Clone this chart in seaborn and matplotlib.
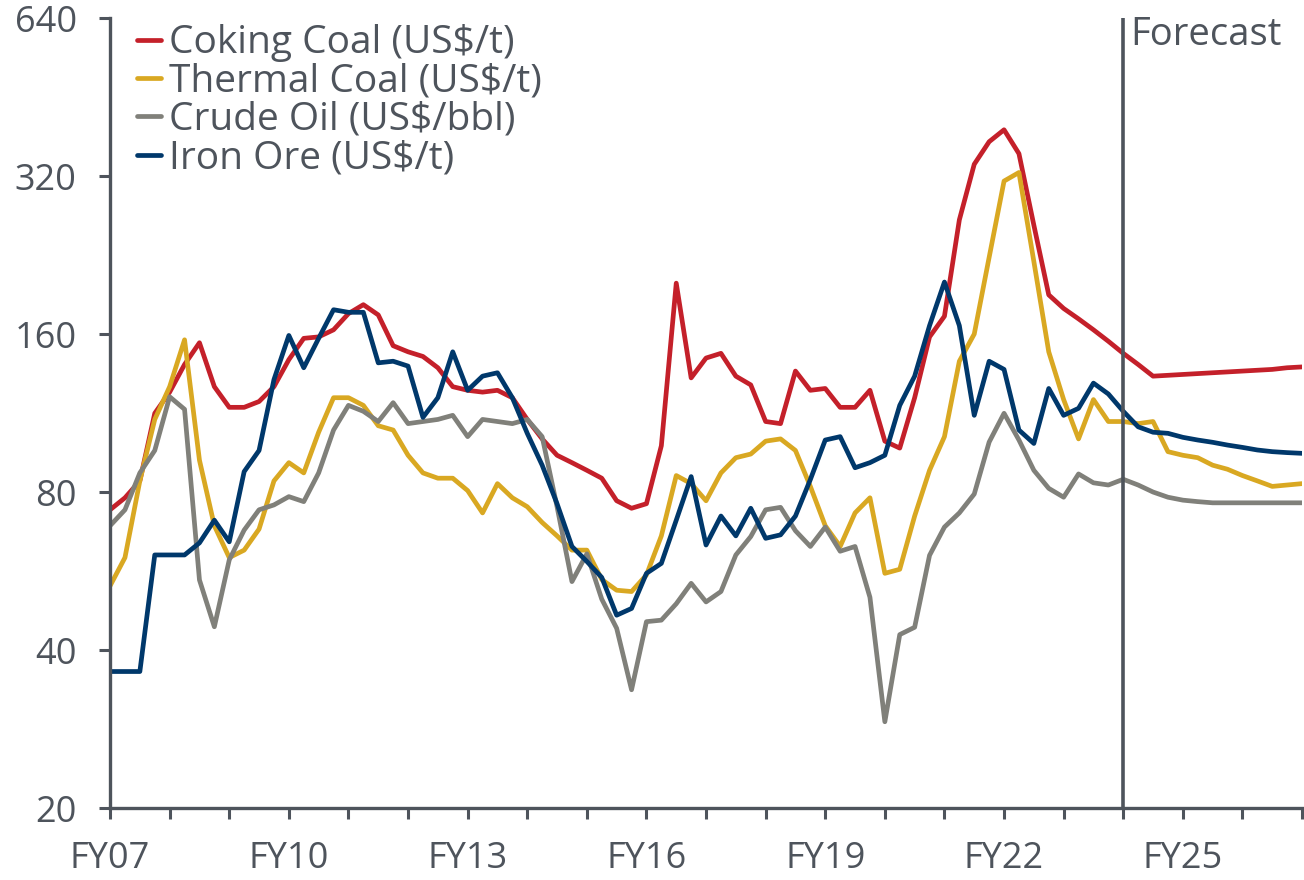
import numpy as np
import pandas as pd
import matplotlib.pyplot as plt
import seaborn as sns

# Quarterly prices, June qtr FY07 to June qtr FY27 (forecast from FY24)
quarters = np.arange(81)

coking_coal = [74, 78, 84, 113, 124, 140, 154, 127, 116, 116,
               119, 127, 143, 157, 158, 163, 175, 182, 174, 152,
               148, 145, 138, 127, 125, 124, 125, 121, 110, 101,
               94, 91, 88, 85, 77, 74.5, 76, 98, 200, 132,
               144, 147, 133, 128, 109, 108, 136, 125, 126, 116,
               116, 125, 100, 97, 121, 158, 173, 264, 337, 372,
               392, 353, 258, 190, 179, 171, 163, 155, 147, 140,
               133, 133.5, 134, 134.5, 135, 135.5, 136, 136.5, 137, 138,
               138.5]

thermal_coal = [53, 60, 84, 110, 127, 156, 92, 69, 60, 62,
                68, 84, 91, 87, 104, 121, 121, 117, 107, 105,
                94, 87, 85, 85, 80.5, 73, 83, 78, 75, 70,
                66, 62, 62, 54.5, 52, 51.7, 55.6, 66, 86, 83,
                77, 87, 93, 94.5, 100, 101, 96, 82, 69, 63,
                73, 78, 56, 57, 72, 88, 102, 142, 160, 224,
                313, 325, 220, 148, 120, 101, 120, 109, 109, 108,
                109, 95.5, 94, 93, 90, 88.4, 86, 84, 82, 82.5,
                83]

crude_oil = [69, 74, 87, 96, 121.5, 115, 54.4, 44.3, 59.4, 67.7,
             74, 75.6, 78.4, 76.7, 87, 105, 117, 114, 109, 118.4,
             108, 109, 110, 112, 102, 110, 109, 108, 110, 102,
             75, 54, 61, 50, 44, 33.6, 45.3, 45.6, 49, 53.6,
             49.4, 51.7, 60.7, 65.8, 74, 74.8, 67.5, 63, 68.6, 61.7,
             63, 50.4, 29.2, 42.8, 44.2, 60.6, 68.6, 73, 79.3, 99.6,
             113, 100.5, 88, 81.3, 78.2, 86.6, 83.3, 82.5, 84.6, 82.5,
             80, 78.2, 77.2, 76.7, 76.3, 76.3, 76.3, 76.3, 76.3, 76.3,
             76.3]

iron_ore = [36.4, 36.4, 36.4, 60.7, 60.7, 60.7, 64, 70.7, 64.3, 87.5,
            96, 131, 159, 138, 157, 178, 176, 176, 141, 142,
            139, 111, 121, 148, 125, 133, 135, 121, 103.5, 90,
            76, 63, 59, 55, 46.6, 48, 56, 58.5, 70.7, 85.6,
            63.4, 72, 66, 74.5, 65.3, 66.3, 72, 84.5, 100.5, 102,
            89, 91, 94, 117, 133, 166, 201, 166, 112, 142,
            137, 105, 99, 126, 112, 115.5, 129, 123, 114, 106.5,
            104, 103.5, 101.7, 100.5, 99.5, 98.3, 97.3, 96.2, 95.5, 95.1,
            94.8]

series_names = ['Coking Coal (US$/t)', 'Thermal Coal (US$/t)',
                'Crude Oil (US$/bbl)', 'Iron Ore (US$/t)']
colours = ['#c4202a', '#d9a822', '#80807a', '#00386b']

year_ticks = list(range(0, 81, 4))
year_labels = ['FY07', '', '', 'FY10', '', '', 'FY13', '', '', 'FY16', '',
               '', 'FY19', '', '', 'FY22', '', '', 'FY25', '', '']
y_ticks = [20, 40, 80, 160, 320, 640]
forecast_start = 68

grey = '#4e545c'

df = pd.concat([
    pd.DataFrame({'quarter': quarters, 'price': vals, 'series': name})
    for name, vals in zip(series_names, [coking_coal, thermal_coal, crude_oil, iron_ore])
], ignore_index=True)

sns.set_style('ticks')
plt.rcParams['font.family'] = ['Open Sans', 'DejaVu Sans']

fig, ax = plt.subplots(figsize=(13.04, 8.8), dpi=100)
fig.subplots_adjust(left=0.0844, right=0.9985, top=0.9795, bottom=0.0818)

sns.lineplot(data=df, x='quarter', y='price', hue='series',
             palette=dict(zip(series_names, colours)), linewidth=3.4,
             errorbar=None, ax=ax)

ax.set_yscale('log', base=2)
ax.set_ylim(20, 640)
ax.set_yticks(y_ticks)
ax.set_yticklabels([str(v) for v in y_ticks])
ax.minorticks_off()
ax.set_xlim(0, 80)
ax.set_xticks(year_ticks)
ax.set_xticklabels(year_labels)
ax.set_xlabel('')
ax.set_ylabel('')

sns.despine(ax=ax)
for side in ['left', 'bottom']:
    ax.spines[side].set_color(grey)
    ax.spines[side].set_linewidth(2.4)
ax.tick_params(axis='both', colors=grey, width=2.2, length=8, labelsize=26)
ax.tick_params(axis='y', pad=16)
ax.tick_params(axis='x', pad=16)

# Forecast divider
ax.axvline(forecast_start, color=grey, linewidth=2.6)
ax.text(forecast_start + 0.45, 0.978, 'Forecast', transform=ax.get_xaxis_transform(),
        ha='left', va='center', fontsize=27.5, color=grey)

leg = ax.legend(loc='upper left', bbox_to_anchor=(0.0095, 1.012), frameon=False,
                fontsize=28, handlelength=0.62, handletextpad=0.2,
                labelspacing=0.01, borderaxespad=0)
for t in leg.get_texts():
    t.set_color(grey)
for h in leg.get_lines():
    h.set_linewidth(3.4)

fig.savefig('out.png', dpi=100)
